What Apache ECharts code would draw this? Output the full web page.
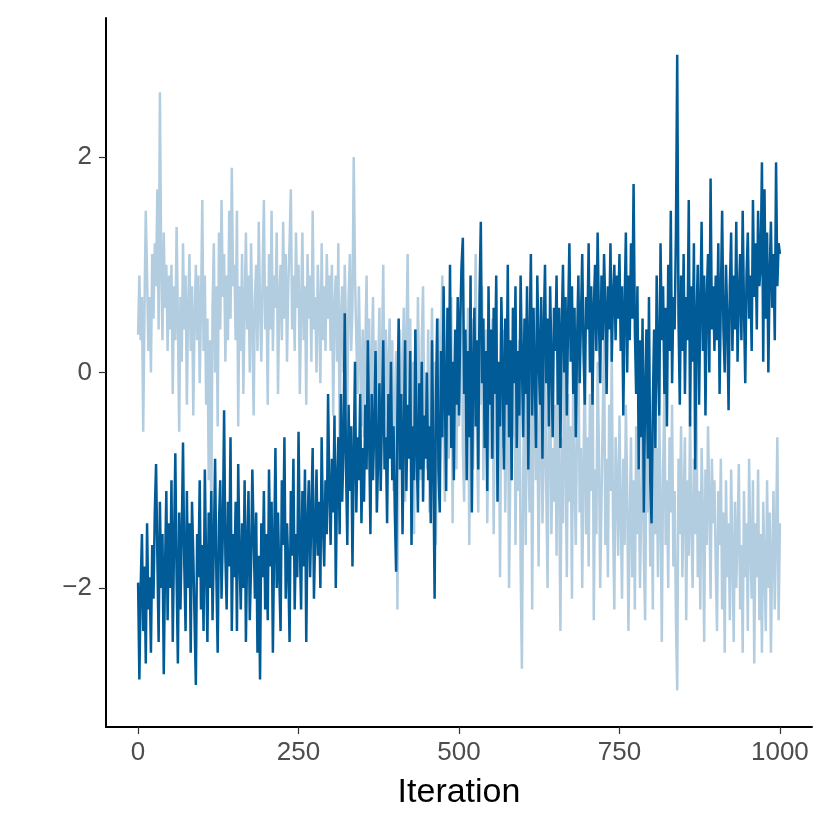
<!DOCTYPE html>
<html>
<head>
<meta charset="utf-8">
<script src="https://cdn.jsdelivr.net/npm/echarts@6/dist/echarts.min.js"></script>
<style>html,body{margin:0;padding:0;background:#fff;}#c{width:830px;height:830px;}</style>
</head>
<body>
<div id="c"></div>
<script>
// Iterations sampled every 2 steps (0..1000)
var iterStep = 2;
var xTicks = [0, 250, 500, 750, 1000];
var yTicks = [-2, 0, 2];
var xTitle = 'Iteration';

// Chain 1 (light)
var chainLight = [
  0.35, 0.9, 0.3, 0.7, -0.55, 0.6, 1.5, 0.9, 0.2, 0.7, 0.0, 1.1, 0.5, 1.2, 0.8, 1.7, 0.4, 2.6, 1.0, 0.3, 1.3, 0.6, 1.0, 0.2, 0.9,
  0.4, 1.0, -0.2, 0.8, 0.3, 1.35, 0.5, -0.55, 0.7, 0.1, 1.2, 0.4, 0.9, -0.3, 0.6, 1.1, 0.2, 0.8, -0.4, 0.5, 1.0, 0.3, 0.9, -0.1, 0.6,
  1.6, 0.2, 0.9, -0.3, 0.5, -1.0, 0.3, -1.4, 0.6, 1.2, 0.0, 0.8, -0.5, 1.3, 0.4, 1.6, 0.7, 1.1, 0.1, 0.9, 0.3, 1.5, 0.5, 1.9, 0.8,
  1.0, 0.3, 1.5, -0.5, 0.8, 0.2, 1.1, -0.2, 0.6, 1.3, 0.4, 0.9, 0.0, 1.2, 0.5, -0.4, 0.7, 1.0, 0.2, 1.4, 0.6, 0.1, 0.9, 1.6, 0.4,
  0.8, -0.3, 1.1, 0.4, 1.5, 0.2, 0.9, 0.6, 1.3, -0.2, 0.7, 1.0, 0.3, 1.4, 0.5, 1.1, 0.1, 0.8, 1.2, 1.7, 0.4, 0.9, 0.2, 1.3, 0.6,
  1.0, -0.2, 0.6, 1.3, 0.3, 0.8, -0.3, 1.1, 0.5, 0.9, 0.1, 1.5, 0.4, 0.7, 0.0, 1.0, 0.6, -0.1, 1.2, 0.3, 0.8, 0.2, 1.1, 0.5, 0.9,
  0.2, 1.0, -0.4, 0.6, 0.9, 0.1, 1.2, -0.7, 0.5, 0.8, 0.0, 1.0, 0.4, -0.3, 0.7, 1.1, 0.2, 0.6, 2.0, 0.9, 0.3, -0.2, 0.8, 0.1, -0.5,
  0.4, -0.6, 0.2, 0.9, -0.3, 0.5, -1.0, 0.1, 0.7, -0.5, 0.3, -1.3, 0.0, 0.6, -0.8, 0.2, 1.0, -0.4, 0.4, -0.9, 0.1, 0.5, -0.6, 0.3, -1.1,
  -0.4, 0.2, -2.2, -0.5, 0.4, -0.9, 0.0, 0.6, -1.2, 0.3, 1.1, -0.3, 0.5, -0.8, 0.1, -1.5, 0.4, -0.6, 0.7, -0.2, -1.0, 0.3, 0.8, -0.5, 0.0,
  -0.9, 0.4, -1.3, -0.2, 0.6, -0.7, 0.1, -1.6, -0.4, 0.5, -1.0, 0.2, 0.9, -0.6, -1.2, 0.0, 0.5, -0.8, -0.3, 0.7, -1.4, -0.1, 0.3, -0.9, 0.4,
  -0.5, 0.2, 0.95, -0.7, -1.2, 0.3, -0.4, 0.6, -1.6, -0.2, 0.5, -0.9, 0.1, 1.1, -0.6, -1.3, 0.2, -0.3, 0.8, -1.0, 0.0, 0.4, -1.4, -0.5, 0.3,
  -0.8, 0.5, -1.5, -0.3, 0.8, -1.0, -0.2, -1.9, 0.1, -0.7, 0.4, -1.3, -0.5, 0.2, -2.0, -0.9, 0.0, -0.6, 0.6, -1.6, -0.4, -1.1, 0.3, -1.8, -2.75,
  -0.9, -0.2, -1.6, 0.4, -0.7, -1.3, 0.1, -2.2, -0.5, 0.6, -1.0, -0.3, -1.8, -0.6, 0.2, -1.4, -0.8, 0.5, -1.1, -2.0, -0.4, 0.0, -1.5, -0.7, -1.2,
  -0.3, -1.7, 0.3, -1.0, -2.4, -0.6, -1.4, 0.65, -0.8, -1.9, -0.2, -1.2, -0.5, -2.1, 0.1, -1.0, -1.6, -0.4, 0.4, -1.3, -0.7, -2.0, -0.9, 0.2, -1.5,
  -0.6, -1.8, -0.2, -1.1, 0.5, -2.3, -0.9, -1.5, 0.1, -0.7, -2.0, -1.2, -0.4, 0.3, -1.6, -0.8, -1.9, -0.3, -1.1, 0.2, -1.4, -2.2, -0.6, -1.0, -1.7,
  -0.4, -1.3, -2.1, -0.8, -1.6, -0.3, -1.1, -2.4, -1.4, -0.6, -1.9, -1.0, -2.2, -0.5, -1.5, -0.9, -2.0, -1.2, -0.3, -1.7, -2.3, -0.8, -1.3, -0.6, -1.8,
  -1.0, -2.2, 0.3, -1.5, -0.7, -1.9, -0.4, -1.2, -2.5, -0.9, -0.2, -1.6, -1.0, -2.0, -0.6, -1.3, -0.3, -1.8, -1.1, -2.3, -2.95, -0.8, -1.5, -0.5, -1.9,
  -1.2, -0.6, -2.3, -1.0, -1.7, -0.4, -1.4, -2.0, -0.8, -1.5, -0.3, -1.9, -1.1, -2.2, -0.7, -1.3, -2.5, -0.9, -1.6, -0.5, -1.2, -2.1, -0.8, -1.4, -1.0,
  -1.8, -2.4, -1.1, -1.6, -0.8, -2.2, -1.3, -2.6, -1.0, -1.9, -1.4, -2.3, -0.9, -1.7, -2.5, -1.2, -2.0, -1.5, -0.85, -2.2, -1.6, -2.6, -1.1, -1.9, -1.4,
  -2.4, -0.8, -1.6, -2.1, -1.0, -2.7, -1.4, -1.9, -0.9, -2.3, -1.5, -2.6, -1.2, -1.8, -2.4, -1.0, -2.0, -1.3, -2.6, -1.7, -1.1, -2.2, -1.5, -0.6, -2.3,
  -1.4
];

// Chain 2 (dark)
var chainDark = [
  -1.95, -2.85, -2.0, -1.5, -2.4, -1.8, -2.7, -1.4, -2.2, -1.9, -2.6, -1.6, -2.1, -1.3, -0.85, -1.7, -2.5, -1.2, -2.0, -1.5, -2.8, -1.8, -1.1, -2.3, -1.4,
  -2.0, -1.0, -2.5, -1.6, -0.75, -1.9, -2.7, -1.3, -2.2, -1.5, -0.65, -1.8, -2.4, -1.1, -2.0, -1.4, -2.6, -1.2, -1.7, -2.3, -2.9, -1.5, -1.9, -1.0, -2.2,
  -1.6, -2.4, -0.9, -1.8, -2.5, -1.3, -2.0, -1.1, -2.3, -1.6, -0.8, -1.9, -2.6, -1.4, -1.0, -2.1, -1.5, -0.35, -1.7, -2.2, -1.2, -1.8, -0.6, -2.4, -1.5,
  -1.9, -1.2, -2.4, -0.85, -1.7, -2.2, -1.4, -2.0, -1.0, -2.5, -1.6, -1.1, -2.3, -1.8, -0.9, -1.5, -2.1, -1.3, -2.6, -1.7, -2.85, -1.4, -1.9, -1.1, -2.2,
  -1.5, -2.3, -0.9, -1.8, -1.2, -2.6, -1.6, -0.7, -2.0, -1.3, -1.9, -2.4, -1.0, -1.6, -0.6, -2.1, -1.4, -1.8, -2.5, -1.1, -1.7, -0.8, -2.2, -1.5, -1.9,
  -0.55, -1.6, -2.2, -1.1, -1.8, -0.9, -2.5, -1.4, -1.0, -1.9, -1.3, -0.7, -2.1, -1.5, -0.9, -1.7, -1.2, -2.0, -0.6, -1.4, -1.8, -1.0, -1.5, -0.2, -1.1,
  -1.6, -0.8, -1.3, -0.4, -2.0, -1.0, -0.6, -1.5, -0.2, -1.2, -0.7, 0.55, -0.9, -1.6, -0.3, -1.1, -0.5, -1.8, -0.8, 0.1, -1.3, -0.6, -1.0, -0.2, -1.4,
  -0.7, -1.2, -0.3, -0.9, 0.3, -0.6, -1.5, -0.2, -1.0, -0.5, 0.2, -1.3, -0.8, -0.1, -1.1, -0.4, 0.3, -0.9, -0.6, -1.4, -0.2, -0.8, 0.1, -1.0, -0.5,
  -1.3, -1.85, -0.4, 0.5, -0.9, -0.2, -1.5, -0.6, 0.3, -1.1, -0.3, -0.8, 0.2, -1.6, -0.5, -1.0, 0.4, -0.7, -1.3, -0.1, -0.9, 0.1, -1.2, -0.4, -0.8,
  0.0, -1.0, -0.5, -1.4, 0.3, -0.8, -2.1, -0.3, 0.5, -0.9, -1.3, 0.2, -0.6, 0.8, -0.2, -1.1, 0.6, -0.4, 1.0, -0.7, 0.1, -1.0, 0.4, -0.3, 0.7,
  -0.4, 0.5, 1.0, 1.25, -0.2, 0.4, -1.0, 0.2, -0.6, 0.9, -1.3, 0.0, 0.6, -0.5, 0.3, -0.9, 0.7, 1.4, -0.1, 0.5, -0.7, 0.2, -1.1, 0.8, -0.3,
  0.4, -0.8, 0.6, -0.2, 0.9, -1.2, 0.1, -0.5, 0.7, 0.0, -0.9, 0.5, -0.3, 1.0, -0.6, 0.3, -1.0, 0.6, -0.1, 0.8, -0.7, 0.2, -0.4, 0.9, 0.1,
  -0.6, 0.5, -0.2, 0.8, -0.9, 0.3, 1.1, -0.4, 0.6, 0.0, -0.7, 0.9, 0.2, -0.3, 0.7, -0.8, 0.4, 1.0, -0.1, 0.5, -0.5, 0.8, 0.1, -0.6, 0.6,
  0.2, 0.9, -0.3, 0.6, -0.7, 0.4, 1.0, 0.0, 0.7, -0.4, 0.5, 1.2, 0.1, 0.8, -0.2, 0.6, -0.6, 0.3, 0.9, -0.1, 0.5, 1.1, 0.2, -0.3, 0.7,
  0.4, 1.2, 0.0, 0.8, -0.3, 0.6, 1.0, 0.2, 1.3, 0.5, -0.1, 0.9, 0.3, 1.1, 0.6, -0.2, 0.8, 0.4, 1.2, 0.1, 0.7, 1.0, 0.3, 0.9, 0.5,
  1.1, 0.2, 0.8, -0.4, 0.6, 1.3, 0.0, 0.9, 0.3, 1.2, 0.5, 1.75, 0.4, -0.2, 0.8, -0.9, 0.3, -0.6, 0.5, -1.3, -0.2, 0.4, -0.8, 0.7, -1.0,
  -1.4, -0.3, 0.4, -0.7, 0.9, 0.1, -0.4, 1.2, 0.3, 0.8, -0.2, 0.6, -0.5, 1.0, 0.2, 1.5, -0.1, 0.7, 0.4, 1.3, 2.95, 0.5, -0.3, 0.9, 0.2,
  1.1, -0.2, 0.7, 0.3, 1.6, -0.5, 0.8, 0.1, 1.2, -0.9, 0.5, 1.0, -0.3, 0.6, 1.4, 0.2, 0.9, -0.4, 0.7, 1.1, 0.0, 1.8, 0.4, 0.8, 0.2,
  0.9, 0.3, 1.2, -0.2, 0.7, 1.5, 0.4, 0.0, 1.0, 0.5, -0.35, 0.8, 1.3, 0.2, 0.9, 0.4, 1.4, 0.1, 0.7, 1.1, 0.3, 1.5, 0.6, -0.1, 0.9,
  1.3, 0.5, 0.9, 0.2, 1.6, 0.7, 1.2, 0.4, 1.5, 0.8, 1.0, 1.95, 0.1, 1.7, 0.5, 1.3, 0.0, 0.9, 1.4, 0.6, 1.1, 0.3, 1.95, 0.8, 1.2,
  1.1
];

function pairs(arr) {
  return arr.map(function (v, i) { return [i * iterStep, v]; });
}
function fmt(v) { return String(v).replace('-', '\u2212'); }

var FONT = 'Liberation Sans, Arial, sans-serif';
var chart = echarts.init(document.getElementById('c'), null, { renderer: 'canvas' });
chart.setOption({
  animation: false,
  backgroundColor: '#ffffff',
  grid: { left: 106, right: 18, top: 18, bottom: 103, containLabel: false },
  xAxis: {
    type: 'value', min: -50, max: 1050,
    name: xTitle, nameLocation: 'middle', nameGap: 49,
    nameTextStyle: { fontSize: 34, color: '#000', fontFamily: FONT },
    splitLine: { show: false },
    axisLine: { show: true, onZero: false, lineStyle: { color: '#000', width: 2 } },
    axisTick: { show: true, length: 7, customValues: xTicks, lineStyle: { color: '#333', width: 1.2 } },
    axisLabel: { customValues: xTicks, fontSize: 26, color: '#4d4d4d', margin: 13,
      fontFamily: FONT, formatter: fmt }
  },
  yAxis: {
    type: 'value', min: -3.29, max: 3.29,
    splitLine: { show: false },
    axisLine: { show: true, onZero: false, lineStyle: { color: '#000', width: 2 } },
    axisTick: { show: true, length: 7, customValues: yTicks, lineStyle: { color: '#333', width: 1.2 } },
    axisLabel: { customValues: yTicks, fontSize: 26, color: '#4d4d4d', margin: 14,
      fontFamily: FONT, formatter: fmt }
  },
  series: [
    { type: 'line', data: pairs(chainLight), showSymbol: false, symbol: 'none',
      lineStyle: { color: '#b3cde0', width: 2.5 }, z: 2 },
    { type: 'line', data: pairs(chainDark), showSymbol: false, symbol: 'none',
      lineStyle: { color: '#005b96', width: 2.5 }, z: 3 }
  ]
});
</script>
</body>
</html>
